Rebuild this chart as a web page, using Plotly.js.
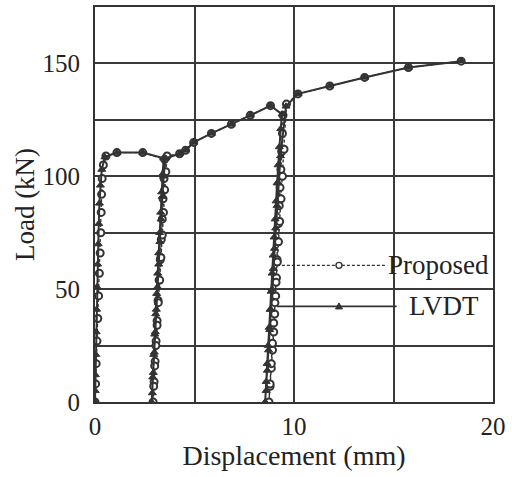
<!DOCTYPE html>
<html>
<head>
<meta charset="utf-8">
<script src="https://cdn.plot.ly/plotly-3.0.1.min.js"></script>
<style>
  html, body { margin: 0; padding: 0; background: #fff; }
  #chart { width: 512px; height: 477px; }
</style>
</head>
<body>
<div id="chart"></div>
<script>
// Load–displacement history: monotonic start, two unload/reload cycles, final loading.
const proposedX = [0, 0.03, 0.06, 0.1, 0.14, 0.18, 0.22, 0.26, 0.29, 0.31, 0.33, 0.36, 0.42, 0.55,
  1.1, 2.4, 3.5,
  3.47, 3.42, 3.38, 3.33, 3.28, 3.22, 3.17, 3.12, 3.07, 3.02, 2.97, 2.92,
  2.95, 3.0, 3.06, 3.12, 3.18, 3.25, 3.31, 3.38, 3.44, 3.5, 3.56, 3.62,
  4.25, 4.55, 4.96, 5.85, 6.85, 7.8, 8.82, 9.45,
  9.42, 9.38, 9.34, 9.3, 9.26, 9.22, 9.18, 9.15, 9.12, 9.08, 9.03, 8.98, 8.92, 8.86, 8.8, 8.74,
  8.8, 8.86, 8.92, 8.98, 9.04, 9.1, 9.16, 9.22, 9.28, 9.35, 9.42, 9.5, 9.62,
  10.2, 11.8, 13.55, 15.75, 18.4];
const proposedY = [0, 8, 17, 27, 37, 47, 57, 66, 75, 84, 92, 99, 105, 109,
  110.5, 110.5, 107.5,
  99, 90, 81, 72, 63, 54, 45, 36, 27, 18, 9, 0,
  7, 16, 25, 34, 44, 54, 64, 74, 84, 94, 102, 109,
  110, 111.5, 115, 119, 123, 127, 131.3, 127,
  119, 111, 103, 95, 87, 79, 71, 63, 55, 47, 39, 31, 23, 15, 7, 0,
  8, 17, 26, 35, 44, 53, 62, 71, 80, 90, 100, 112, 132,
  136.5, 140, 143.8, 148.2, 151];

const lvdtX = [0, 0.01, 0.02, 0.04, 0.06, 0.08, 0.1, 0.13, 0.16, 0.19, 0.22, 0.27, 0.34, 0.5,
  1.1, 2.4, 3.45,
  3.4, 3.35, 3.3, 3.25, 3.2, 3.15, 3.1, 3.05, 3.0, 2.95, 2.9, 2.85,
  2.88, 2.93, 2.98, 3.03, 3.08, 3.14, 3.2, 3.26, 3.32, 3.38, 3.45, 3.55,
  4.25, 4.55, 4.96, 5.85, 6.85, 7.8, 8.82, 9.4,
  9.33, 9.26, 9.2, 9.15, 9.1, 9.05, 9.0, 8.95, 8.9, 8.85, 8.8, 8.75, 8.7, 8.65, 8.6, 8.55,
  8.6, 8.66, 8.72, 8.78, 8.84, 8.9, 8.96, 9.02, 9.08, 9.15, 9.22, 9.32, 9.6,
  10.2, 11.8, 13.55, 15.75, 18.4];
const lvdtY = [0, 5, 12, 21, 31, 41, 51, 61, 70, 79, 88, 96, 103, 108.5,
  110.5, 110.5, 108,
  101, 93, 84, 75, 66, 57, 48, 39, 30, 21, 11, 0,
  4, 13, 22, 31, 41, 51, 61, 71, 81, 91, 100, 108,
  110, 111.5, 115, 119, 123, 127, 131.3, 127.5,
  121, 113, 105, 97, 89, 81, 73, 65, 57, 49, 41, 33, 25, 17, 9, 0,
  5, 14, 23, 32, 41, 50, 59, 68, 77, 87, 97, 109, 131,
  136.5, 140, 143.8, 148.2, 151];

const xTickVals = [0, 5, 10, 15, 20];
const xTickText = ['0', '', '10', '', '20'];
const yTickVals = [0, 25, 50, 75, 100, 125, 150, 175];
const yTickText = ['0', '', '50', '', '100', '', '150', ''];
const seriesNames = ['Proposed', 'LVDT'];

const ink = '#333333';
const gridInk = '#3a3a3a';
const serif = '"Liberation Serif", "Times New Roman", serif';

// Proposed (open circles, dashed) first, LVDT (triangles, solid) on top.
const traces = [
  {
    x: proposedX, y: proposedY, name: seriesNames[0], type: 'scatter', mode: 'lines+markers',
    line: { color: ink, width: 1.4, dash: '3px,2px' },
    marker: { symbol: 'circle', size: 7, color: '#ffffff', line: { color: ink, width: 2 } },
    showlegend: false
  },
  {
    x: lvdtX, y: lvdtY, name: seriesNames[1], type: 'scatter', mode: 'lines+markers',
    line: { color: ink, width: 2 },
    marker: { symbol: 'triangle-up', size: 7, color: ink, line: { color: ink, width: 1 } },
    showlegend: false
  }
];

// Hand-drawn key inside the plot area (long sample lines, text to the right).
const keyRows = [
  { name: seriesNames[0], y: 0.346, x0: 0.457, x1: 0.734, textX: 0.732, dash: '3px,2px', width: 1.3 },
  { name: seriesNames[1], y: 0.242, x0: 0.457, x1: 0.758, textX: 0.783, dash: 'solid', width: 1.6 }
];
const markX = 0.613;

const shapes = [];
const annotations = [];
keyRows.forEach((r, i) => {
  shapes.push({ type: 'line', xref: 'paper', yref: 'paper', x0: r.x0, x1: r.x1, y0: r.y, y1: r.y,
    line: { color: ink, width: r.width, dash: r.dash } });
  if (i === 0) {
    shapes.push({ type: 'circle', xref: 'paper', yref: 'paper', xsizemode: 'pixel', ysizemode: 'pixel',
      xanchor: markX, yanchor: r.y, x0: -3, x1: 3, y0: -3, y1: 3,
      fillcolor: '#ffffff', line: { color: ink, width: 1.4 } });
  } else {
    shapes.push({ type: 'path', xref: 'paper', yref: 'paper', xsizemode: 'pixel', ysizemode: 'pixel',
      xanchor: markX, yanchor: r.y, path: 'M-3.5,-2.5 L3.5,-2.5 L0,3.5 Z',
      fillcolor: ink, line: { color: ink, width: 1 } });
  }
  annotations.push({ xref: 'paper', yref: 'paper', x: r.textX, y: r.y, xanchor: 'left', yanchor: 'middle',
    text: r.name, showarrow: false, font: { family: serif, size: 27, color: '#222' } });
});

const layout = {
  width: 512, height: 477,
  margin: { l: 95, r: 19, t: 7, b: 75 },
  paper_bgcolor: '#ffffff', plot_bgcolor: '#ffffff',
  font: { family: serif, color: '#222' },
  xaxis: {
    range: [0, 20], tickvals: xTickVals, ticktext: xTickText,
    showgrid: true, gridcolor: gridInk, gridwidth: 2,
    showline: true, mirror: true, linecolor: ink, linewidth: 2,
    zeroline: false, ticks: '', ticklabelstandoff: 1,
    tickfont: { family: serif, size: 25, color: '#222' },
    title: { text: 'Displacement (mm)', font: { family: serif, size: 28, color: '#222' }, standoff: 0 }
  },
  yaxis: {
    range: [0, 175], tickvals: yTickVals, ticktext: yTickText,
    showgrid: true, gridcolor: gridInk, gridwidth: 2,
    showline: true, mirror: true, linecolor: ink, linewidth: 2,
    zeroline: false, ticks: '', ticklabelstandoff: 8,
    tickfont: { family: serif, size: 25, color: '#222' },
    title: { text: 'Load (kN)', font: { family: serif, size: 27, color: '#222' }, standoff: 0 }
  },
  shapes: shapes,
  annotations: annotations,
  showlegend: false
};

Plotly.newPlot('chart', traces, layout, { displayModeBar: false, staticPlot: true });
</script>
</body>
</html>
